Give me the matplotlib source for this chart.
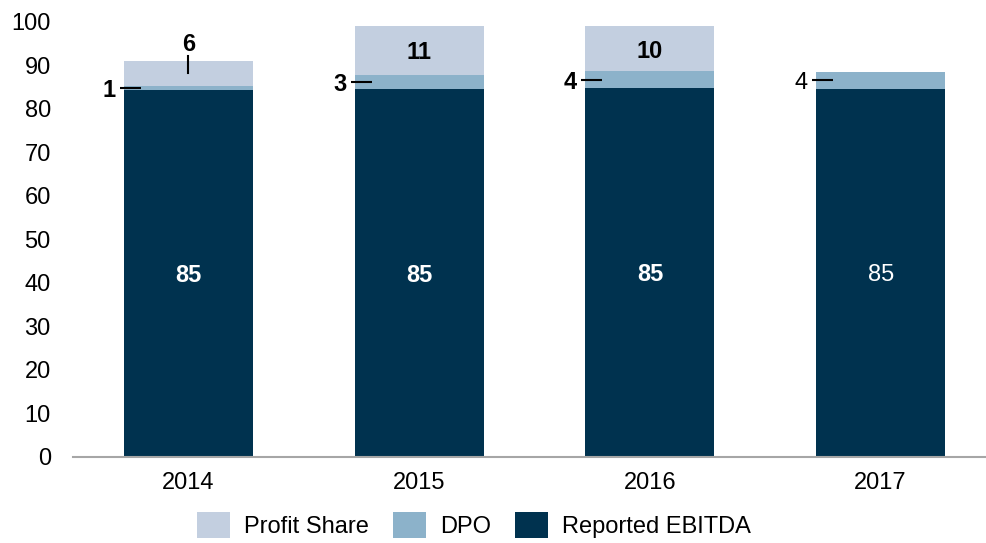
import matplotlib
matplotlib.use("Agg")
import matplotlib.pyplot as plt
import numpy as np

plt.rcParams["font.family"] = ["Liberation Sans", "DejaVu Sans"]

years = ["2014", "2015", "2016", "2017"]
ebitda = [84.4, 84.6, 84.8, 84.6]
dpo = [0.9, 3.2, 3.9, 3.9]
profit_share = [5.7, 11.3, 10.4, 0.0]

ebitda_labels = ["85", "85", "85", "85"]
dpo_labels = ["1", "3", "4", "4"]
profit_labels = ["6", "11", "10", ""]
bold = [True, True, True, False]

C_PROFIT = "#C3CFE0"
C_DPO = "#8CB2CA"
C_EBITDA = "#00324F"

W = 0.56
FS = 17

fig = plt.figure(figsize=(9.86, 5.43), dpi=100)
ax = fig.add_axes([73 / 986, 1 - 456.5 / 543, 923 / 986, 434.5 / 543])

x = np.arange(len(years))
e = np.array(ebitda)
d = np.array(dpo)
p = np.array(profit_share)

ax.bar(x, e, W, color=C_EBITDA, label="Reported EBITDA", zorder=2)
ax.bar(x, d, W, bottom=e, color=C_DPO, label="DPO", zorder=2)
ax.bar(x, p, W, bottom=e + d, color=C_PROFIT, label="Profit Share", zorder=2)

ax.set_xlim(-0.5, 3.5)
ax.set_ylim(0, 100)
ax.set_yticks(range(0, 101, 10))
ax.set_xticks(x)
ax.set_xticklabels(years)
ax.tick_params(axis="both", length=0, labelsize=FS, colors="black")
ax.tick_params(axis="x", pad=11)
ax.tick_params(axis="y", pad=16)
for s in ("top", "right", "left"):
    ax.spines[s].set_visible(False)
ax.spines["bottom"].set_color("#A6A6A6")
ax.spines["bottom"].set_linewidth(1.5)

for i in range(len(years)):
    fw = "bold" if bold[i] else "normal"
    ax.text(x[i], e[i] / 2, ebitda_labels[i], color="white", fontsize=FS,
            fontweight=fw, ha="center", va="center_baseline", zorder=3)

    # DPO label with leader line on the left
    ym = e[i] + d[i] / 2
    left = x[i] - W / 2
    ax.plot([left - 0.017, left + 0.074], [ym, ym], color="black", lw=1.5,
            zorder=3, solid_capstyle="butt")
    ax.text(left - 0.035, ym, dpo_labels[i], fontsize=FS, fontweight=fw,
            ha="right", va="center_baseline", zorder=3)

    if profit_labels[i]:
        pm = e[i] + d[i] + p[i] / 2
        if p[i] < 8:
            ax.plot([x[i], x[i]], [pm, 92.1], color="black", lw=1.5, zorder=3)
            ax.text(x[i], 95.3, profit_labels[i], fontsize=FS, fontweight="bold",
                    ha="center", va="center_baseline", zorder=3)
        else:
            ax.text(x[i], pm, profit_labels[i], fontsize=FS,
                    fontweight="bold", ha="center", va="center_baseline", zorder=3)

handles, labels = ax.get_legend_handles_labels()
order = [2, 1, 0]
fig.legend([handles[k] for k in order], [labels[k] for k in order],
           loc="lower left", bbox_to_anchor=(176 / 986, -0.03), ncol=3,
           frameon=False, fontsize=FS, handlelength=1.4, handleheight=1.35,
           handletextpad=0.6, columnspacing=1.0)

fig.savefig("out.png", dpi=100)
